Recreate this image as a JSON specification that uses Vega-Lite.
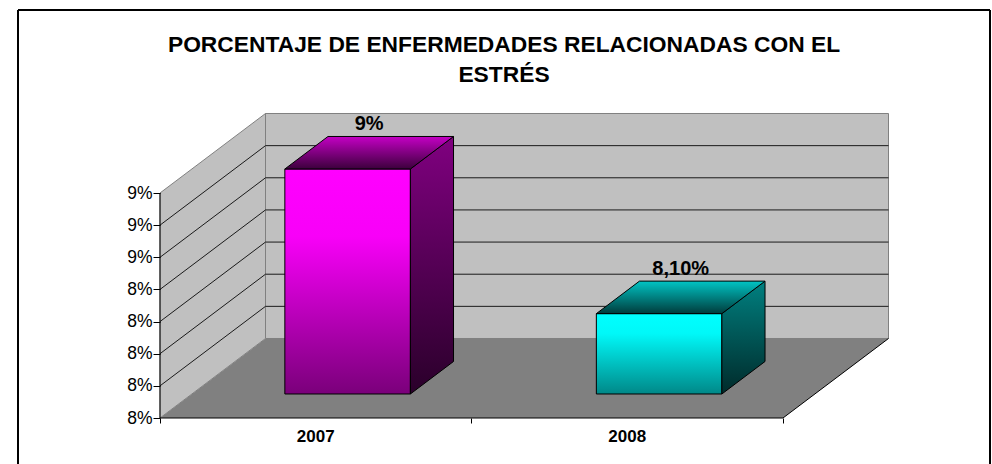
{
  "$schema": "https://vega.github.io/schema/vega-lite/v6.json",
  "width": 972,
  "height": 454,
  "autosize": {"type": "none"},
  "padding": {"left": 18, "top": 10, "right": 2, "bottom": 0},
  "background": "white",
  "config": {
    "font": "Liberation Sans",
    "view": {"stroke": null, "fill": "white"}
  },
  "title": {
    "text": ["PORCENTAJE DE ENFERMEDADES RELACIONADAS CON EL", "ESTRÉS"],
    "fontSize": 22.8,
    "fontWeight": "bold",
    "font": "Liberation Sans",
    "color": "#000000",
    "anchor": "middle",
    "lineHeight": 30,
    "offset": -78
  },
  "datasets": {
    "bars": [
      {"year": 2007, "value": 9.0, "label": "9%"},
      {"year": 2008, "value": 8.1, "label": "8,10%"}
    ],
    "ticks": [{"v": 7.8}, {"v": 8.0}, {"v": 8.2}, {"v": 8.4}, {"v": 8.6}, {"v": 8.8}],
    "frame": [{"part": "walls"}]
  },
  "layer": [
    {
      "data": {"name": "frame"},
      "transform": [
        {"calculate": "[0, 1]", "as": "t"},
        {"flatten": ["t"]},
        {"calculate": "7.6 + 0.4947 * datum.t", "as": "fy"},
        {"calculate": "2006.5 + 0.3387 * datum.t", "as": "fx0"},
        {"calculate": "2008.5 + 0.3387 * datum.t", "as": "fx1"}
      ],
      "mark": {"type": "area", "orient": "horizontal", "fill": "#808080", "stroke": null},
      "encoding": {
        "y": {"field": "fy", "type": "quantitative", "scale": {"domain": [7.31378, 10.1387], "nice": false, "zero": false},
          "axis": {"values": [7.6, 7.8, 8.0, 8.2, 8.4, 8.6, 8.8, 9.0], "labelExpr": "round(datum.value) + '%'", "labelFontSize": 17.5, "labelFont": "Liberation Sans", "labelColor": "#000000", "tickSize": 7, "tickColor": "#000000", "tickWidth": 1, "domain": false, "grid": false, "title": null, "offset": -142, "labelPadding": 1, "zindex": 2}},
        "x": {"field": "fx0", "type": "quantitative", "scale": {"domain": [2006.04414, 2009.16453], "nice": false, "zero": false},
          "axis": {"values": [2006.5, 2007.5, 2008.5], "labels": false, "tickSize": 5, "tickColor": "#000000", "tickWidth": 1, "domain": false, "grid": false, "title": null, "offset": -46, "zindex": 2}},
        "x2": {"field": "fx1"}
      }
    },
    {
      "data": {"name": "frame"},
      "mark": {"type": "rect", "fill": "#c0c0c0", "stroke": "#808080", "strokeWidth": 1},
      "encoding": {
        "x": {"datum": 2006.8387, "type": "quantitative"},
        "x2": {"datum": 2008.8387},
        "y": {"datum": 8.0947, "type": "quantitative"},
        "y2": {"datum": 9.4947}
      }
    },
    {
      "data": {"name": "frame"},
      "transform": [
        {"calculate": "[0, 1]", "as": "t"},
        {"flatten": ["t"]},
        {"calculate": "2006.5 + 0.3387 * datum.t", "as": "wx"},
        {"calculate": "7.6 + 0.4947 * datum.t", "as": "wy0"},
        {"calculate": "9.0 + 0.4947 * datum.t", "as": "wy1"}
      ],
      "mark": {"type": "area", "orient": "vertical", "fill": "#c0c0c0", "stroke": "#808080", "strokeWidth": 1},
      "encoding": {
        "x": {"field": "wx", "type": "quantitative"},
        "y": {"field": "wy1", "type": "quantitative"},
        "y2": {"field": "wy0"}
      }
    },
    {
      "data": {"name": "ticks"},
      "transform": [{"calculate": "datum.v + 0.4947", "as": "vb"}],
      "mark": {"type": "rule", "stroke": "#1a1a1a", "strokeWidth": 1},
      "encoding": {
        "x": {"datum": 2006.8387, "type": "quantitative"},
        "x2": {"datum": 2008.8387},
        "y": {"field": "vb", "type": "quantitative"}
      }
    },
    {
      "data": {"name": "ticks"},
      "transform": [{"calculate": "datum.v + 0.4947", "as": "vb"}],
      "mark": {"type": "rule", "stroke": "#1a1a1a", "strokeWidth": 1},
      "encoding": {
        "x": {"datum": 2006.5, "type": "quantitative"},
        "x2": {"datum": 2006.8387},
        "y": {"field": "v", "type": "quantitative"},
        "y2": {"field": "vb"}
      }
    },
    {
      "data": {"name": "frame"},
      "mark": {"type": "rule", "stroke": "#000000", "strokeWidth": 1},
      "encoding": {
        "x": {"datum": 2006.5, "type": "quantitative"},
        "y": {"datum": 7.6, "type": "quantitative"},
        "y2": {"datum": 9.0}
      }
    },
    {
      "data": {"name": "frame"},
      "mark": {"type": "rule", "stroke": "#000000", "strokeWidth": 1},
      "encoding": {
        "x": {"datum": 2006.5, "type": "quantitative"},
        "x2": {"datum": 2008.5},
        "y": {"datum": 7.6, "type": "quantitative"}
      }
    },
    {
      "data": {"name": "frame"},
      "mark": {"type": "rule", "stroke": "#000000", "strokeWidth": 1},
      "encoding": {
        "x": {"datum": 2008.5, "type": "quantitative"},
        "x2": {"datum": 2008.8387},
        "y": {"datum": 7.6, "type": "quantitative"},
        "y2": {"datum": 8.0947}
      }
    },
    {
      "data": {"name": "bars"},
      "transform": [{"filter": "datum.year == 2007"}],
      "layer": [
        {
          "transform": [
            {"calculate": "datum.year - 0.2015 + 0.1023", "as": "bx0"},
            {"calculate": "datum.year + 0.2015 + 0.1023", "as": "bx1"},
            {"calculate": "7.6 + 0.1494", "as": "by0"},
            {"calculate": "datum.value + 0.1494", "as": "by1"}
          ],
          "mark": {"type": "rect", "stroke": "#000000", "strokeWidth": 1,
            "fill": {"gradient": "linear", "x1": 0, "y1": 0, "x2": 0, "y2": 1,
              "stops": [{"offset": 0, "color": "#ff00ff"}, {"offset": 0.3, "color": "#f800f8"}, {"offset": 1, "color": "#7a007a"}]}},
          "encoding": {
            "x": {"field": "bx0", "type": "quantitative"},
            "x2": {"field": "bx1"},
            "y": {"field": "by1", "type": "quantitative"},
            "y2": {"field": "by0"}
          }
        },
        {
          "transform": [
            {"calculate": "[0, 1]", "as": "t"},
            {"flatten": ["t"]},
            {"calculate": "0.302 + 0.409 * datum.t", "as": "dd"},
            {"calculate": "datum.year + 0.2015 + 0.3387 * datum.dd", "as": "sx"},
            {"calculate": "datum.value + 0.4947 * datum.dd", "as": "sy1"},
            {"calculate": "7.6 + 0.4947 * datum.dd", "as": "sy0"}
          ],
          "mark": {"type": "area", "orient": "vertical", "stroke": "#000000", "strokeWidth": 1,
            "fill": {"gradient": "linear", "x1": 0, "y1": 0, "x2": 0, "y2": 1,
              "stops": [{"offset": 0, "color": "#800080"}, {"offset": 1, "color": "#2a002a"}]}},
          "encoding": {
            "x": {"field": "sx", "type": "quantitative"},
            "y": {"field": "sy1", "type": "quantitative"},
            "y2": {"field": "sy0"}
          }
        },
        {
          "transform": [
            {"calculate": "[0, 1]", "as": "t"},
            {"flatten": ["t"]},
            {"calculate": "0.302 + 0.409 * datum.t", "as": "dd"},
            {"calculate": "datum.value + 0.4947 * datum.dd", "as": "ty"},
            {"calculate": "datum.year - 0.2015 + 0.3387 * datum.dd", "as": "tx0"},
            {"calculate": "datum.year + 0.2015 + 0.3387 * datum.dd", "as": "tx1"}
          ],
          "mark": {"type": "area", "orient": "horizontal", "stroke": "#000000", "strokeWidth": 1,
            "fill": {"gradient": "linear", "x1": 0, "y1": 0, "x2": 0, "y2": 1,
              "stops": [{"offset": 0, "color": "#c400c4"}, {"offset": 1, "color": "#3c003c"}]}},
          "encoding": {
            "y": {"field": "ty", "type": "quantitative"},
            "x": {"field": "tx0", "type": "quantitative"},
            "x2": {"field": "tx1"}
          }
        }
      ]
    },
    {
      "data": {"name": "bars"},
      "transform": [{"filter": "datum.year == 2008"}],
      "layer": [
        {
          "transform": [
            {"calculate": "datum.year - 0.2015 + 0.1023", "as": "bx0"},
            {"calculate": "datum.year + 0.2015 + 0.1023", "as": "bx1"},
            {"calculate": "7.6 + 0.1494", "as": "by0"},
            {"calculate": "datum.value + 0.1494", "as": "by1"}
          ],
          "mark": {"type": "rect", "stroke": "#000000", "strokeWidth": 1,
            "fill": {"gradient": "linear", "x1": 0, "y1": 0, "x2": 0, "y2": 1,
              "stops": [{"offset": 0, "color": "#00ffff"}, {"offset": 0.25, "color": "#00f8f8"}, {"offset": 1, "color": "#008888"}]}},
          "encoding": {
            "x": {"field": "bx0", "type": "quantitative"},
            "x2": {"field": "bx1"},
            "y": {"field": "by1", "type": "quantitative"},
            "y2": {"field": "by0"}
          }
        },
        {
          "transform": [
            {"calculate": "[0, 1]", "as": "t"},
            {"flatten": ["t"]},
            {"calculate": "0.302 + 0.409 * datum.t", "as": "dd"},
            {"calculate": "datum.year + 0.2015 + 0.3387 * datum.dd", "as": "sx"},
            {"calculate": "datum.value + 0.4947 * datum.dd", "as": "sy1"},
            {"calculate": "7.6 + 0.4947 * datum.dd", "as": "sy0"}
          ],
          "mark": {"type": "area", "orient": "vertical", "stroke": "#000000", "strokeWidth": 1,
            "fill": {"gradient": "linear", "x1": 0, "y1": 0, "x2": 0, "y2": 1,
              "stops": [{"offset": 0, "color": "#008080"}, {"offset": 1, "color": "#002a2a"}]}},
          "encoding": {
            "x": {"field": "sx", "type": "quantitative"},
            "y": {"field": "sy1", "type": "quantitative"},
            "y2": {"field": "sy0"}
          }
        },
        {
          "transform": [
            {"calculate": "[0, 1]", "as": "t"},
            {"flatten": ["t"]},
            {"calculate": "0.302 + 0.409 * datum.t", "as": "dd"},
            {"calculate": "datum.value + 0.4947 * datum.dd", "as": "ty"},
            {"calculate": "datum.year - 0.2015 + 0.3387 * datum.dd", "as": "tx0"},
            {"calculate": "datum.year + 0.2015 + 0.3387 * datum.dd", "as": "tx1"}
          ],
          "mark": {"type": "area", "orient": "horizontal", "stroke": "#000000", "strokeWidth": 1,
            "fill": {"gradient": "linear", "x1": 0, "y1": 0, "x2": 0, "y2": 1,
              "stops": [{"offset": 0, "color": "#00c4c4"}, {"offset": 1, "color": "#003c3c"}]}},
          "encoding": {
            "y": {"field": "ty", "type": "quantitative"},
            "x": {"field": "tx0", "type": "quantitative"},
            "x2": {"field": "tx1"}
          }
        }
      ]
    },
    {
      "data": {"name": "bars"},
      "transform": [
        {"calculate": "datum.year + 0.17155", "as": "lx"},
        {"calculate": "datum.value + 0.25057", "as": "ly"}
      ],
      "mark": {"type": "text", "font": "Liberation Sans", "fontSize": 20, "fontWeight": "bold", "color": "#000000", "align": "center", "baseline": "middle", "dy": -28.5},
      "encoding": {
        "x": {"field": "lx", "type": "quantitative"},
        "y": {"field": "ly", "type": "quantitative"},
        "text": {"field": "label", "type": "nominal"}
      }
    },
    {
      "data": {"name": "bars"},
      "mark": {"type": "text", "font": "Liberation Sans", "fontSize": 17, "fontWeight": "bold", "color": "#000000", "align": "center", "baseline": "middle", "dy": 19},
      "encoding": {
        "x": {"field": "year", "type": "quantitative"},
        "y": {"datum": 7.6, "type": "quantitative"},
        "text": {"field": "year", "type": "nominal"}
      }
    },
    {
      "data": {"name": "frame"},
      "mark": {"type": "rule", "stroke": "#000000", "strokeWidth": 2},
      "encoding": {
        "x": {"datum": 2006.04414, "type": "quantitative"},
        "y": {"datum": 7.31378, "type": "quantitative"},
        "y2": {"datum": 10.1387}
      }
    },
    {
      "data": {"name": "frame"},
      "mark": {"type": "rule", "stroke": "#000000", "strokeWidth": 2},
      "encoding": {
        "x": {"datum": 2009.16453, "type": "quantitative"},
        "y": {"datum": 7.31378, "type": "quantitative"},
        "y2": {"datum": 10.1387}
      }
    },
    {
      "data": {"name": "frame"},
      "mark": {"type": "rule", "stroke": "#000000", "strokeWidth": 2},
      "encoding": {
        "x": {"datum": 2006.04414, "type": "quantitative"},
        "x2": {"datum": 2009.16453},
        "y": {"datum": 10.1387, "type": "quantitative"}
      }
    }
  ]
}
